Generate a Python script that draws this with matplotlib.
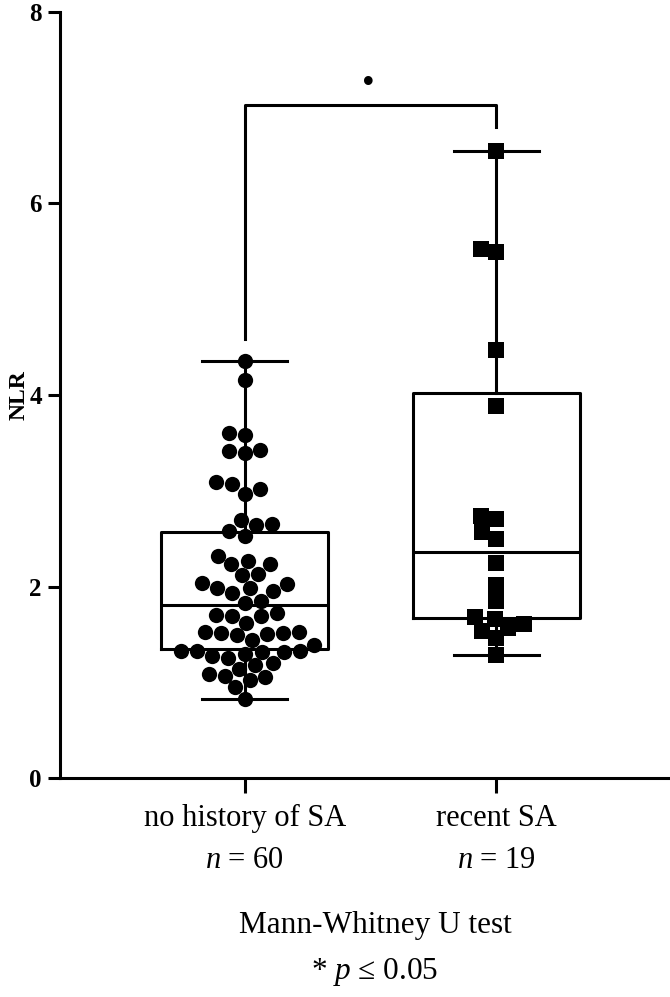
import matplotlib.pyplot as plt
import matplotlib.transforms as mtransforms
import pandas as pd
import seaborn as sns

# Times 风格字体
plt.rcParams['font.family'] = ['Liberation Serif', 'DejaVu Serif']
plt.rcParams['mathtext.fontset'] = 'custom'
plt.rcParams['mathtext.rm'] = 'Liberation Serif'
plt.rcParams['mathtext.it'] = 'Liberation Serif:italic'

groups = ['no history of SA', 'recent SA']
group_n = [60, 19]

nlr_no_history = [
    4.35, 4.16, 3.60, 3.58, 3.43, 3.39, 3.41, 3.09, 3.07, 2.97, 3.02, 2.69,
    2.64, 2.65, 2.58, 2.53, 2.32, 2.24, 2.23, 2.27, 2.13, 2.12, 2.04, 2.03,
    1.98, 1.93, 1.95, 1.98, 1.85, 1.83, 1.72, 1.69, 1.69, 1.70, 1.62, 1.51,
    1.51, 1.52, 1.49, 1.52, 1.50, 1.44, 1.39, 1.33, 1.33, 1.32, 1.33, 1.32,
    1.30, 1.25, 1.27, 1.20, 1.18, 1.14, 1.09, 1.06, 1.07, 1.02, 0.95, 0.82,
]
nlr_recent = [
    6.55, 5.53, 5.49, 4.47, 3.89, 2.74, 2.70, 2.57, 2.50, 2.25, 2.02, 1.85,
    1.68, 1.66, 1.61, 1.57, 1.54, 1.46, 1.28,
]

# 须下端, Q1, 中位数, Q3, 须上端
box_no_history = [0.82, 1.35, 1.81, 2.57, 4.35]
box_recent = [1.28, 1.67, 2.36, 4.02, 6.55]

bracket_top = 7.03
bracket_legs = [4.58, 6.80]

fig = plt.figure(figsize=(6.7, 9.97), dpi=100)
ax = fig.add_axes([60 / 670, 219 / 997, 610 / 670, 766 / 997])

stats = []
for name, b in zip(groups, [box_no_history, box_recent]):
    stats.append({'label': name, 'whislo': b[0], 'q1': b[1], 'med': b[2],
                  'q3': b[3], 'whishi': b[4], 'fliers': []})
line = dict(color='black', linewidth=2.2)
ax.bxp(stats, positions=[0, 1], widths=0.665, capwidths=0.337,
       showfliers=False, boxprops=line, whiskerprops=line, capprops=line,
       medianprops=line, manage_ticks=False, zorder=1)

df1 = pd.DataFrame({'group': groups[0], 'NLR': nlr_no_history})
df2 = pd.DataFrame({'group': groups[1], 'NLR': nlr_recent})
sns.swarmplot(data=df1, x='group', y='NLR', order=groups, marker='o', size=11,
              color='black', linewidth=0, ax=ax, zorder=3)
sns.swarmplot(data=df2, x='group', y='NLR', order=groups, marker='s', size=11,
              color='black', linewidth=0, ax=ax, zorder=3)

# 显著性括号
ax.plot([0, 0, 1, 1], [bracket_legs[0], bracket_top, bracket_top, bracket_legs[1]],
        color='black', linewidth=2.2, clip_on=False)
ax.text(0.49, 7.24, '•', ha='center', va='center', fontsize=26)

ax.set_xlim(-0.734, 1.69)
ax.set_ylim(0, 8)
ax.set_yticks([0, 2, 4, 6, 8])
ax.set_xticks([0, 1])
ax.set_xticklabels([])
ax.set_xlabel('')
ax.tick_params(axis='y', length=9, width=2.2, labelsize=18, pad=4)
ax.tick_params(axis='x', length=11, width=2.2)
for lab in ax.get_yticklabels():
    lab.set_fontweight('bold')
ax.set_ylabel('NLR', fontsize=17, fontweight='bold')
ax.yaxis.set_label_coords(-0.05, 0.5)

for s in ['top', 'right']:
    ax.spines[s].set_visible(False)
for s in ['left', 'bottom']:
    ax.spines[s].set_linewidth(2.2)

trans = mtransforms.blended_transform_factory(ax.transData, fig.transFigure)
for i, (name, n) in enumerate(zip(groups, group_n)):
    ax.text(i, 1 - 818 / 997, name, transform=trans, ha='center', va='center', fontsize=22)
    ax.text(i, 1 - 860 / 997, f'$n$ = {n}', transform=trans, ha='center', va='center', fontsize=22)

fig.text(375 / 670, 1 - 925 / 997, 'Mann-Whitney U test', ha='center', va='center', fontsize=22.5)
fig.text(375 / 670, 1 - 972 / 997, '* $p$ ≤ 0.05', ha='center', va='center', fontsize=22.5)

fig.savefig('out.png', dpi=100)
